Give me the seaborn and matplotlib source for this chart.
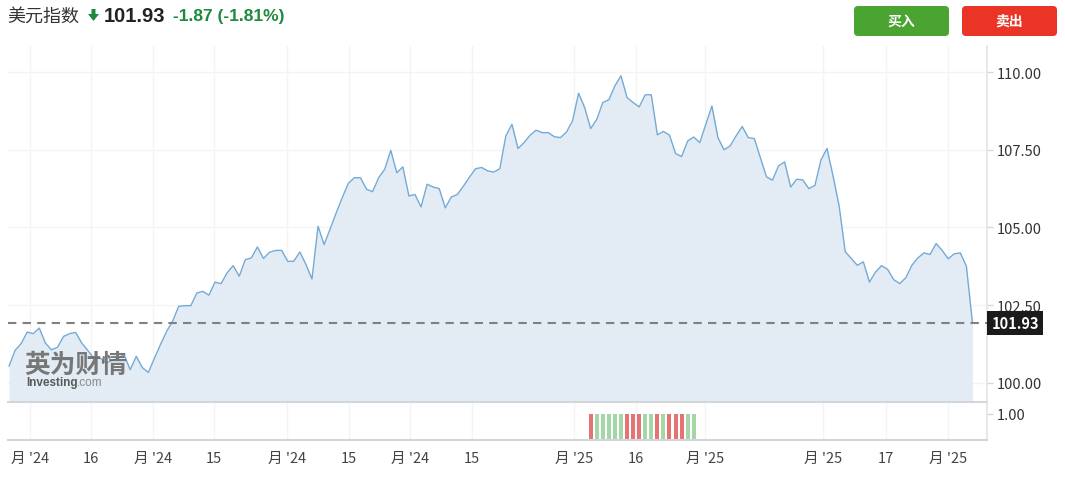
import numpy as np
import pandas as pd
import matplotlib
matplotlib.use("Agg")
import matplotlib.pyplot as plt
import seaborn as sns
from matplotlib.patches import FancyBboxPatch, Polygon
from matplotlib.transforms import IdentityTransform
from matplotlib.ticker import FormatStrFormatter

# ---------------- data ----------------
title = "美元指数"
last_price = 101.93
change_text = "-1.87 (-1.81%)"
buy_label = "买入"
sell_label = "卖出"

prices = [
    100.53, 101.04, 101.26, 101.63, 101.58, 101.76, 101.28, 101.06, 101.14, 101.49,
    101.58, 101.62, 101.28, 101.04, 100.79, 100.80, 100.63, 100.72, 100.79, 100.90,
    100.42, 100.85, 100.49, 100.33, 100.79, 101.23, 101.65, 101.98, 102.46, 102.48,
    102.48, 102.89, 102.94, 102.82, 103.24, 103.19, 103.54, 103.77, 103.43, 103.96,
    104.02, 104.37, 104.00, 104.20, 104.26, 104.26, 103.91, 103.91, 104.21, 103.81,
    103.34, 105.04, 104.45, 104.95, 105.47, 105.96, 106.42, 106.60, 106.60, 106.23,
    106.15, 106.60, 106.87, 107.48, 106.76, 106.95, 106.01, 106.06, 105.66, 106.39,
    106.30, 106.25, 105.63, 105.98, 106.06, 106.33, 106.62, 106.89, 106.93, 106.82,
    106.78, 106.89, 107.95, 108.32, 107.54, 107.73, 107.97, 108.13, 108.05, 108.05,
    107.92, 107.89, 108.07, 108.43, 109.32, 108.86, 108.18, 108.48, 109.02, 109.11,
    109.56, 109.88, 109.18, 109.02, 108.88, 109.27, 109.27, 107.98, 108.09, 107.97,
    107.38, 107.28, 107.78, 107.91, 107.73, 108.32, 108.91, 107.89, 107.50, 107.62,
    107.95, 108.25, 107.89, 107.86, 107.25, 106.63, 106.52, 106.98, 107.11, 106.30,
    106.55, 106.53, 106.25, 106.35, 107.17, 107.54, 106.65, 105.69, 104.22, 104.00,
    103.78, 103.89, 103.24, 103.56, 103.77, 103.65, 103.32, 103.19, 103.38, 103.78,
    104.02, 104.18, 104.13, 104.48, 104.26, 103.99, 104.15, 104.18, 103.75, 101.93,
]

tick_pos = [3.5, 13.5, 23.75, 33.8, 45.9, 56.1, 66.2, 76.4, 93.2, 103.5, 114.9, 134.3, 144.7, 155.0]
tick_labels = ["月 '24", "16", "月 '24", "15", "月 '24", "15", "月 '24", "15",
               "月 '25", "16", "月 '25", "月 '25", "17", "月 '25"]
y_ticks = [100.0, 102.5, 105.0, 107.5, 110.0]

vol_start = 96
vol_dirs = ["down", "up", "up", "up", "up", "up", "down", "down", "down",
            "up", "up", "down", "up", "down", "down", "down", "up", "up"]
vol_values = [1.0] * len(vol_dirs)

# ---------------- style ----------------
sns.set_theme(style="white")
plt.rcParams["font.family"] = ["Noto Sans CJK SC", "DejaVu Sans"]

W, H = 1065, 481
LINE_C = "#74aad6"
FILL_C = "#e3ecf4"
GRID_C = "#f3f4f6"
UP_C = "#a5d6a7"
DOWN_C = "#e57373"

fig = plt.figure(figsize=(W / 100, H / 100), dpi=100)
fig.patch.set_facecolor("white")

ax = fig.add_axes([8 / W, 1 - 403 / H, 979 / W, 356 / H])
ax2 = fig.add_axes([8 / W, 1 - 441 / H, 979 / W, 37 / H], sharex=ax)

df = pd.DataFrame({"i": np.arange(len(prices)), "price": prices})
ax.fill_between(df["i"], df["price"], 99.0, color=FILL_C, zorder=1, linewidth=0)
sns.lineplot(data=df, x="i", y="price", ax=ax, color=LINE_C, linewidth=1.0, zorder=2)

ax.set_xlim(-0.165, 161.4)
ax.set_ylim(99.38, 110.84)
ax.set_xlabel("")
ax.set_ylabel("")
ax.yaxis.tick_right()
ax.set_yticks(y_ticks)
ax.yaxis.set_major_formatter(FormatStrFormatter("%.2f"))
ax.tick_params(axis="y", length=4, width=1, color="#d3d7dc", labelsize=10.5,
               labelcolor="#333333", pad=3)
ax.set_xticks(tick_pos)
ax.tick_params(axis="x", length=0, labelbottom=False)
ax.grid(True, color=GRID_C, linewidth=1)
ax.set_axisbelow(True)
for s in ("top", "left"):
    ax.spines[s].set_visible(False)
ax.spines["right"].set_color("#e3e6ea")
ax.spines["bottom"].set_color("#d2d6db")
ax.spines["bottom"].set_linewidth(1.5)

ax.axhline(last_price, color="#808080", linestyle=(0, (4, 3)), linewidth=1.5, zorder=3)
ax.annotate(f"{last_price:.2f}", xy=(1.0, last_price), xycoords=("axes fraction", "data"),
            xytext=(3.2, 0), textcoords="offset points", va="center", ha="left",
            color="white", fontsize=10.5, fontweight="bold", annotation_clip=False,
            bbox=dict(boxstyle="square,pad=0.28", fc="#1b1b1b", ec="none"), zorder=5)

# volume panel
vx = np.arange(vol_start, vol_start + len(vol_values))
vcolors = [UP_C if d == "up" else DOWN_C for d in vol_dirs]
ax2.bar(vx, vol_values, width=0.66, color=vcolors, linewidth=0, zorder=2)
ax2.set_ylim(0, 1.42)
ax2.yaxis.tick_right()
ax2.set_yticks([1.0])
ax2.yaxis.set_major_formatter(FormatStrFormatter("%.2f"))
ax2.tick_params(axis="y", length=4, width=1, color="#d3d7dc", labelsize=10.5,
                labelcolor="#333333", pad=3)
ax2.set_xticks(tick_pos)
ax2.set_xticklabels(tick_labels)
ax2.tick_params(axis="x", length=4, width=1, color="#d3d7dc", labelsize=10.5,
                labelcolor="#444444", pad=4)
ax2.grid(True, axis="x", color=GRID_C, linewidth=1)
ax2.set_axisbelow(True)
for s in ("top", "left"):
    ax2.spines[s].set_visible(False)
ax2.spines["right"].set_color("#e3e6ea")
ax2.spines["bottom"].set_color("#d2d6db")
ax2.spines["bottom"].set_linewidth(1.5)
ax2.set_xlabel("")
ax2.set_ylabel("")


def fx(x):
    return x / W


def fy(y):
    return 1 - y / H


# watermark
fig.text(fx(24), fy(365), "英为财情", fontsize=18.5, fontweight="bold", color="#6a6a6a",
         va="center", ha="left", alpha=0.9, zorder=6)
fig.text(fx(26), fy(383), "Investing", fontsize=8.5, fontweight="bold", color="#5a5a5a",
         va="center", ha="left", family=["Liberation Sans", "DejaVu Sans"], zorder=6)
fig.text(fx(77), fy(383), ".com", fontsize=8.5, color="#8a8a8a",
         va="center", ha="left", family=["Liberation Sans", "DejaVu Sans"], zorder=6)

# header
fig.text(fx(7), fy(17), title, fontsize=13, color="#333333", va="center", ha="left")
arrow_px = [(91.5, 10), (95.5, 10), (95.5, 15), (99, 15), (93.5, 22), (88, 15), (91.5, 15)]
fig.patches.append(Polygon([(x, H - y) for x, y in arrow_px], closed=True,
                           transform=IdentityTransform(), fc="#1e8a3c", ec="none"))
fig.text(fx(104), fy(17), f"{last_price:.2f}", fontsize=14.5, fontweight="bold",
         color="#222222", va="center", ha="left", family=["Liberation Sans", "DejaVu Sans"])
fig.text(fx(173), fy(17), change_text, fontsize=12.5, fontweight="bold",
         color="#1e8a3c", va="center", ha="left", family=["Liberation Sans", "DejaVu Sans"])

# buttons
for (x0, label, color) in [(854, buy_label, "#4ba331"), (962, sell_label, "#ea3426")]:
    btn = FancyBboxPatch((x0, H - 37), 95, 30, boxstyle="round,pad=0,rounding_size=4",
                         transform=IdentityTransform(), fc=color, ec="none")
    fig.patches.append(btn)
    fig.text(fx(x0 + 47.5), fy(21.5), label, fontsize=10, fontweight="bold",
             color="white", va="center", ha="center")

fig.savefig("out.png", dpi=100)
